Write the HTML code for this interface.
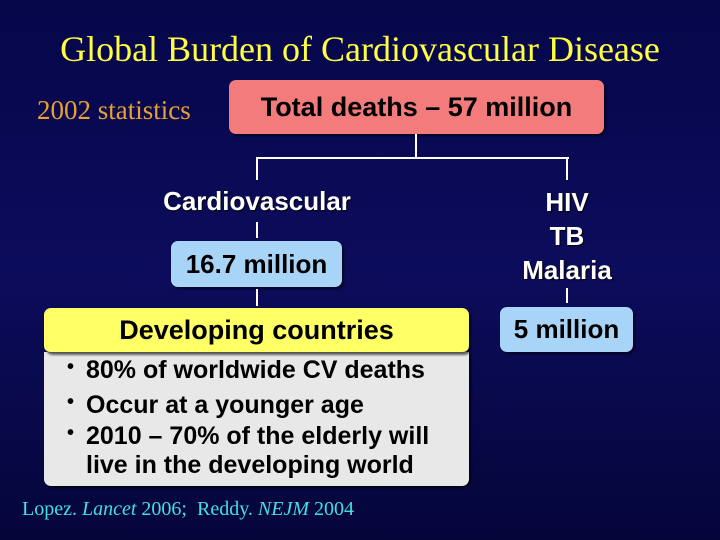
<!DOCTYPE html>
<html><head><meta charset="utf-8"><style>
body{margin:0;width:720px;height:540px;overflow:hidden;background:linear-gradient(180deg,#06064a 0%,#0c0c5c 50%,#05053a 100%);position:relative;font-family:"Liberation Sans",sans-serif}
.a{position:absolute}
.t{font-family:"Liberation Serif",serif;color:#ffff40;font-size:36px;left:0;width:720px;text-align:center;top:28px;white-space:nowrap}
.box{position:absolute;border-radius:7px;display:flex;align-items:center;justify-content:center;font-weight:bold;color:#000;box-shadow:2px 2px 2px rgba(0,0,0,.6);white-space:nowrap}
.l{position:absolute;background:#fff}
.w{position:absolute;color:#fff;font-weight:bold;font-size:26px;text-align:center;width:260px;text-shadow:1px 1px 1px #000}
ul{margin:0;padding:0;list-style:none}
li{position:relative;padding-left:22px;font-size:25px;font-weight:bold;line-height:34px;white-space:nowrap}
li:before{content:"•";position:absolute;left:3px;top:-3px;font-size:20px}
</style></head><body>
<div class="a t">Global Burden of Cardiovascular Disease</div>
<div class="a" style="left:37px;top:95px;font-family:'Liberation Serif',serif;color:#e8a030;font-size:27px">2002 statistics</div>
<div class="box" style="left:229px;top:80px;width:375px;height:54px;background:#f47b7b;font-size:27px">Total deaths – 57 million</div>
<div class="l" style="left:415px;top:134px;width:2px;height:24px"></div>
<div class="l" style="left:256px;top:157px;width:313px;height:2px"></div>
<div class="l" style="left:256px;top:157px;width:2px;height:23px"></div>
<div class="l" style="left:566px;top:157px;width:2px;height:23px"></div>
<div class="w" style="left:127px;top:186px">Cardiovascular</div>
<div class="l" style="left:256px;top:222px;width:2px;height:16px"></div>
<div class="box" style="left:171px;top:241px;width:171px;height:46px;background:#a8d4f8;font-size:26px">16.7 million</div>
<div class="l" style="left:256px;top:289px;width:2px;height:17px"></div>
<div class="w" style="left:437px;top:185px;line-height:34px">HIV<br>TB<br>Malaria</div>
<div class="l" style="left:566px;top:288px;width:2px;height:15px"></div>
<div class="box" style="left:500px;top:307px;width:133px;height:45px;background:#a8d4f8;font-size:26px">5 million</div>
<div class="a" style="left:44px;top:352px;width:425px;height:134px;background:#e8e8e8;border-radius:0 0 7px 7px;box-shadow:2px 2px 2px rgba(0,0,0,.6)">
<ul style="padding:1px 0 0 20px">
<li style="height:35px">80% of worldwide CV deaths</li>
<li style="height:34px">Occur at a younger age</li>
<li style="line-height:29px">2010 – 70% of the elderly will<br>live in the developing world</li>
</ul></div>
<div class="box" style="left:44px;top:308px;width:425px;height:44px;background:#ffff66;font-size:27px;border-bottom:1px solid #555">Developing countries</div>
<div class="a" style="left:22px;top:498px;font-family:'Liberation Serif',serif;color:#40e0e0;font-size:20px;white-space:nowrap">Lopez. <i>Lancet</i> 2006;&nbsp; Reddy. <i>NEJM</i> 2004</div>
</body></html>
